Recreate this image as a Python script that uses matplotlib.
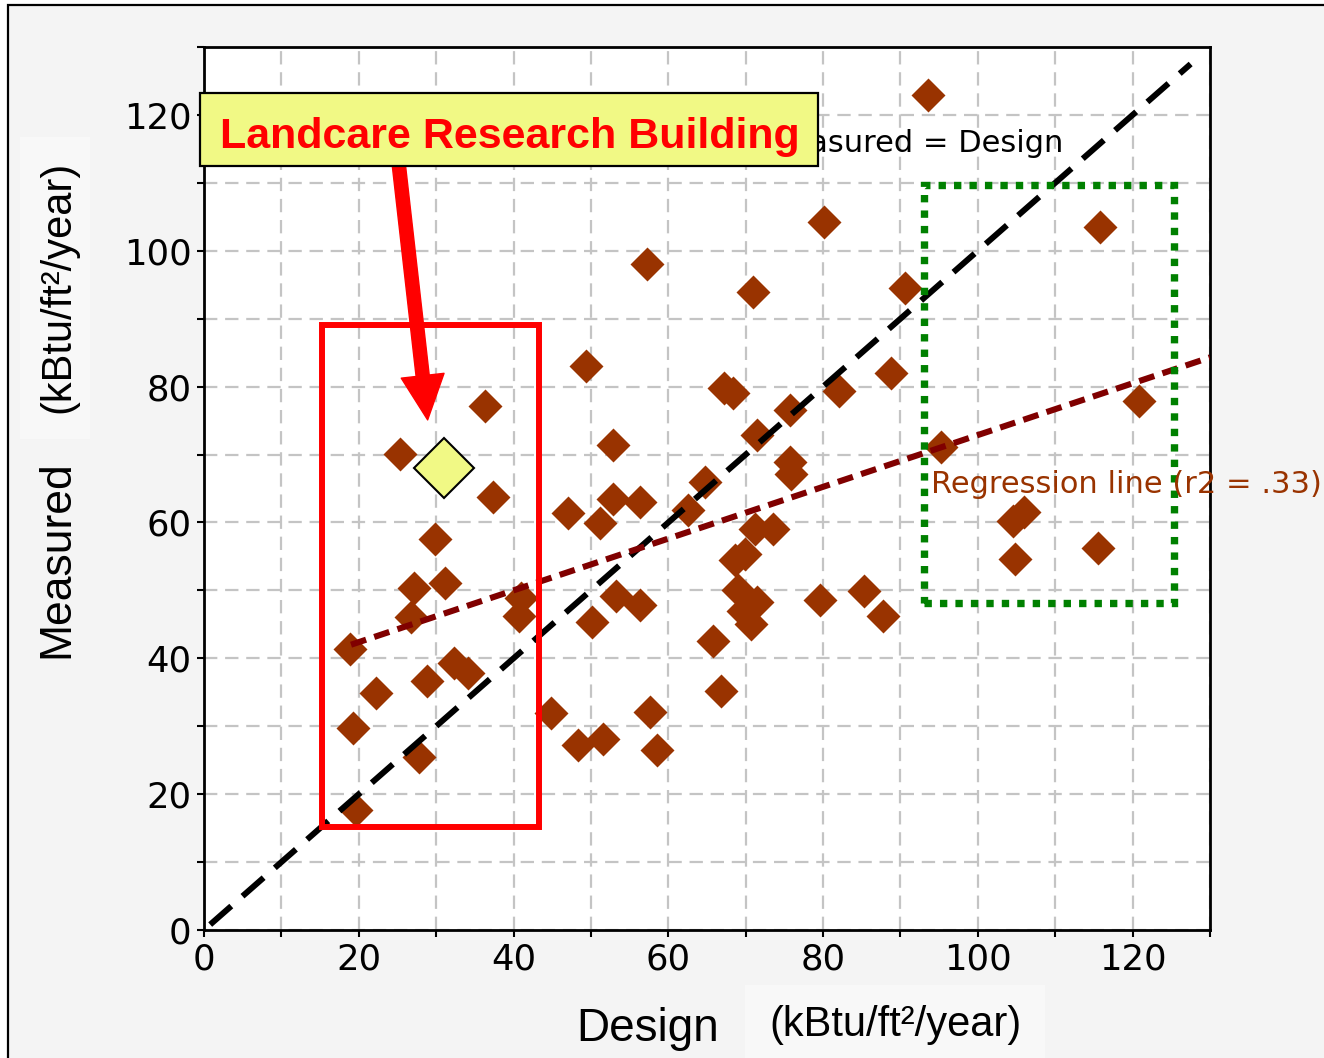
import matplotlib
matplotlib.use("Agg")
import matplotlib.pyplot as plt
from matplotlib.patches import Rectangle, FancyArrowPatch
from matplotlib.ticker import MultipleLocator

# ---------------- data ----------------
design = [93.5, 80.1, 115.8, 57.3, 70.9, 90.6, 49.4, 67.2, 68.3, 82.0,
          88.8, 120.8, 36.3, 75.7, 25.3, 52.9, 71.4, 95.2, 75.7, 75.8,
          37.4, 52.9, 56.3, 64.7, 62.5, 47.0, 51.2, 71.2, 73.5, 104.6,
          106.0, 104.8, 115.5, 29.9, 68.6, 69.9, 69.0, 71.4, 69.6, 70.7,
          79.6, 85.3, 87.8, 65.8, 66.8, 27.1, 31.2, 26.7, 40.9, 40.7,
          50.1, 53.2, 56.4, 18.9, 22.2, 28.8, 32.3, 34.1, 19.3, 27.8,
          19.6, 44.8, 48.3, 51.5, 57.6, 58.6]
measured = [123.0, 104.2, 103.5, 98.0, 93.9, 94.5, 83.1, 79.8, 79.0, 79.3,
            82.0, 77.9, 77.1, 76.6, 70.1, 71.4, 72.9, 71.1, 68.9, 67.1,
            63.7, 63.5, 63.0, 66.0, 61.8, 61.4, 59.9, 59.1, 59.1, 60.2,
            61.6, 54.6, 56.2, 57.5, 54.5, 55.3, 50.1, 48.3, 46.9, 45.0,
            48.6, 49.9, 46.2, 42.6, 35.2, 50.3, 51.1, 46.1, 48.9, 46.2,
            45.4, 49.1, 47.8, 41.3, 34.9, 36.7, 39.3, 37.9, 29.7, 25.5,
            17.6, 32.0, 27.2, 28.1, 32.1, 26.5]

landcare_design = [31.0]
landcare_measured = [68.0]

# 1:1 line and regression line end points
diag_x = [0.8, 127.5]
diag_y = [0.8, 127.5]
reg_x = [19.0, 130.0]
reg_y = [42.0, 84.3]

x_ticks = [0, 20, 40, 60, 80, 100, 120]
y_ticks = [0, 20, 40, 60, 80, 100, 120]
x_tick_labels = ["0", "20", "40", "60", "80", "100", "120"]
y_tick_labels = ["0", "20", "40", "60", "80", "100", "120"]

# highlight boxes (data coords: x0, y0, x1, y1)
red_box = (15.2, 15.2, 43.3, 89.0)
green_box = (93.0, 48.1, 125.4, 109.7)

# ---------------- figure ----------------
W, H = 1324, 1058
fig = plt.figure(figsize=(W / 100, H / 100), dpi=100, facecolor="white")

def fx(px):
    return px / W

def fy(py):
    return 1 - py / H

# grey panel with black frame
fig.add_artist(Rectangle((fx(8), -0.1), 1.2, fy(5) + 0.1, transform=fig.transFigure,
                         facecolor="#f4f4f4", edgecolor="black", lw=1.6, zorder=-10))

ax = fig.add_axes([fx(204), fy(930), (1210 - 204) / W, (930 - 47) / H])
ax.set_facecolor("white")
ax.set_xlim(0, 130)
ax.set_ylim(0, 130)

ax.set_xticks(x_ticks)
ax.set_xticklabels(x_tick_labels)
ax.set_yticks(y_ticks)
ax.set_yticklabels(y_tick_labels)
ax.xaxis.set_minor_locator(MultipleLocator(10))
ax.yaxis.set_minor_locator(MultipleLocator(10))
ax.tick_params(which="both", direction="out", length=5, width=1.5, color="black")
ax.tick_params(which="major", labelsize=25.5, pad=4)
for lab in ax.get_xticklabels() + ax.get_yticklabels():
    lab.set_family("DejaVu Sans")

ax.set_axisbelow(True)
ax.grid(which="both", color="#c4c4c4", lw=1.6, ls=(0, (6.0, 3.5)))
for s in ax.spines.values():
    s.set_linewidth(2.0)
    s.set_color("black")

# data points
ax.plot(design, measured, ls="none", marker="D", ms=17, color="#993300",
        mec="none", zorder=2)

# lines
ax.plot(diag_x, diag_y, color="black", lw=4.3, ls=(0, (4.7, 2.5)), zorder=3)
ax.plot(reg_x, reg_y, color="#800000", lw=4.4, ls=(0, (2.6, 1.4)), zorder=3)

# highlight boxes
ax.add_patch(Rectangle((red_box[0], red_box[1]), red_box[2] - red_box[0],
                       red_box[3] - red_box[1], fill=False, ec="red", lw=4.3, zorder=4))
ax.add_patch(Rectangle((green_box[0], green_box[1]), green_box[2] - green_box[0],
                       green_box[3] - green_box[1], fill=False, ec="#008000", lw=5.3,
                       ls=(0, (1.0, 1.1)), zorder=4))

# annotations in axes
ax.text(111.0, 114.6, "Measured = Design", ha="right", va="baseline",
        fontsize=22, family="DejaVu Sans", color="black", zorder=5)
ax.text(93.9, 64.4, "Regression line (r2 = .33)", ha="left", va="baseline",
        fontsize=22, family="DejaVu Sans", color="#993300", zorder=5, clip_on=False)

# Landcare building point
ax.plot(landcare_design, landcare_measured, ls="none", marker="D", ms=31,
        mfc="#f1f985", mec="black", mew=1.5, zorder=7)

# arrow
arrow = FancyArrowPatch(posA=(25.1, 113.4), posB=(28.9, 75.1),
                        arrowstyle="simple,head_length=32,head_width=31,tail_width=9.5",
                        mutation_scale=1, color="red", shrinkA=0, shrinkB=0,
                        zorder=6, clip_on=False)
ax.add_patch(arrow)

# label box (figure level, drawn above axes)
fig.add_artist(Rectangle((fx(200), fy(166)), (818 - 200) / W, (166 - 93) / H,
                         transform=fig.transFigure, facecolor="#f1f985",
                         edgecolor="black", lw=1.6, zorder=5))
fig.text(fx(509.5), fy(148), "Landcare Research Building", ha="center", va="baseline",
         fontsize=31, fontweight="bold", family="Liberation Sans", color="#ff0000", zorder=6)

# axis labels
fig.add_artist(Rectangle((fx(20), fy(439)), 70 / W, (439 - 137) / H,
                         transform=fig.transFigure, facecolor="#f8f8f8",
                         edgecolor="none", zorder=-5))
fig.add_artist(Rectangle((fx(745), fy(1060)), 300 / W, (1060 - 985) / H,
                         transform=fig.transFigure, facecolor="#f8f8f8",
                         edgecolor="none", zorder=-5))
fig.text(fx(57), fy(559), "Measured", rotation=90, ha="center", va="center",
         fontsize=32, family="Liberation Sans", color="black")
fig.text(fx(58), fy(287), "(kBtu/ft\u00b2/year)", rotation=90, ha="center", va="center",
         fontsize=30, family="Liberation Sans", color="black")
fig.text(fx(648), fy(1041), "Design", ha="center", va="baseline",
         fontsize=33, family="Liberation Sans", color="black")
fig.text(fx(895), fy(1036), "(kBtu/ft\u00b2/year)", ha="center", va="baseline",
         fontsize=30, family="Liberation Sans", color="black")

fig.savefig("out.png", dpi=100, facecolor=fig.get_facecolor())
